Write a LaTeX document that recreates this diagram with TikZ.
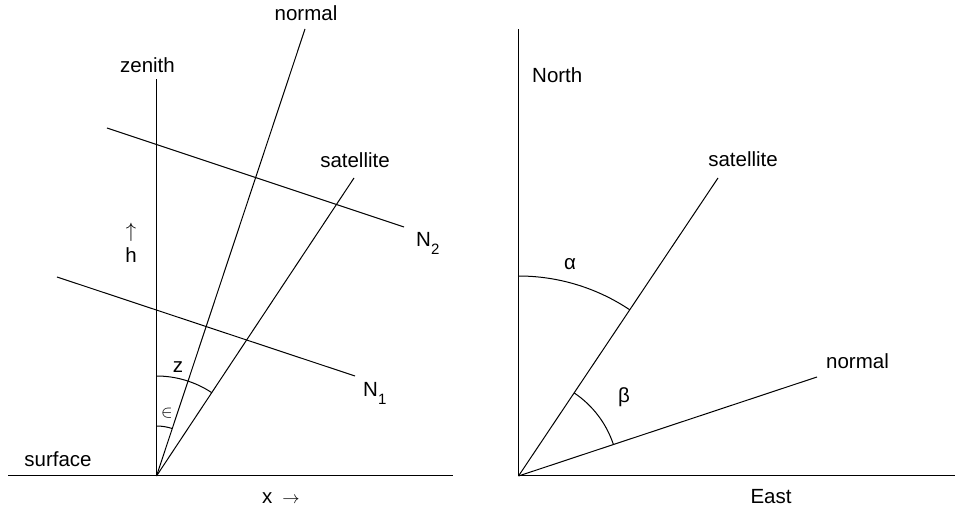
\documentclass[tikz,border=0pt]{standalone}
\usepackage{fontspec}
\setmainfont{Liberation Sans}
\begin{document}
\begin{tikzpicture}[x=1pt,y=1pt,
  lbl/.style={inner sep=0pt, font=\fontsize{20.5}{24}\selectfont},
  ln/.style={line width=1pt, line cap=butt},
  arc/.style={line width=1pt}]
\useasboundingbox (0,0) rectangle (955,511);
% ---------- left diagram ----------
\coordinate (O1) at (156.5,35);
\coordinate (surfL) at (8,35);
\coordinate (surfR) at (453,35);
\coordinate (zenT) at (156.5,432);
\coordinate (norT) at (305,482);
\coordinate (satT) at (354,333);
\coordinate (n2L) at (107,383);
\coordinate (n2R) at (404,284);
\coordinate (n1L) at (57,234);
\coordinate (n1R) at (355,135);
\draw[ln] (surfL) -- (surfR);
\draw[ln] (O1) -- (zenT);
\draw[ln] (O1) -- (norT);
\draw[ln] (O1) -- (satT);
\draw[ln] (n2L) -- (n2R);
\draw[ln] (n1L) -- (n1R);
\draw[arc] ([shift={(90:100)}]O1) arc[start angle=90, end angle=56.5, radius=100];
\draw[arc] ([shift={(90:50)}]O1) arc[start angle=90, end angle=71.6, radius=50];
\node[lbl, anchor=base] (surface) at (58,45) {surface};
\node[lbl, anchor=base] (zenith) at (147.5,438) {zenith};
\node[lbl, anchor=base] (normalL) at (306,490) {normal};
\node[lbl, anchor=base] (satL) at (355,343) {satellite};
\node[lbl, anchor=base west] (N2) at (416,264) {N\raisebox{-8pt}{\fontsize{15}{15}\selectfont 2}};
\node[lbl, anchor=base west] (N1) at (363,114) {N\raisebox{-8pt}{\fontsize{15}{15}\selectfont 1}};
\node[inner sep=0pt, font=\fontsize{20}{20}\selectfont] (harrow) at (131,279) {$\uparrow$};
\node[lbl, anchor=base] (h) at (131,248) {h};
\node[lbl, anchor=base west] (xarrow) at (262,8) {x\hspace{10pt}{\fontsize{19}{19}\selectfont$\rightarrow$}};
\node[lbl, anchor=base] (z) at (178,138) {z};
\node[inner sep=0pt, font=\fontsize{19}{19}\selectfont] (eps) at (167,98) {$\in$};
% ---------- right diagram ----------
\coordinate (O2) at (518.5,35);
\coordinate (northT) at (518.5,482);
\coordinate (eastR) at (955,35);
\coordinate (sat2T) at (718,333);
\coordinate (nor2T) at (817,134);
\draw[ln] (O2) -- (northT);
\draw[ln] (O2) -- (eastR);
\draw[ln] (O2) -- (sat2T);
\draw[ln] (O2) -- (nor2T);
\draw[arc] ([shift={(90:200)}]O2) arc[start angle=90, end angle=56.2, radius=200];
\draw[arc] ([shift={(56.2:100)}]O2) arc[start angle=56.2, end angle=18.35, radius=100];
\node[lbl, anchor=base west] (north) at (532,428) {North};
\node[lbl, anchor=base] (satR) at (743,344) {satellite};
\node[lbl, anchor=base] (normalR) at (857.5,142) {normal};
\node[lbl, anchor=base] (east) at (771,8) {East};
\node[lbl] (alpha) at (570,247) {α};
\node[lbl] (beta) at (624,114) {β};
\end{tikzpicture}
\end{document}
